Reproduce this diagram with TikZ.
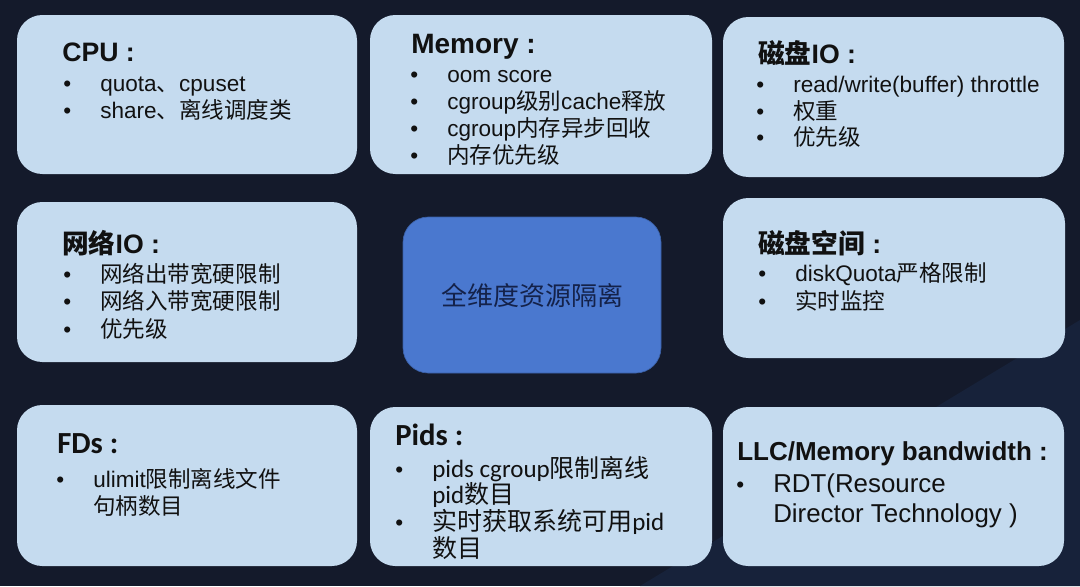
\documentclass[tikz,border=0pt]{standalone}
\usepackage{fontspec}
\setmainfont{Liberation Sans}
\newfontfamily\zh{Noto Sans CJK SC}
\newfontfamily\calfont{Carlito}
\usetikzlibrary{fit}
\definecolor{bg}{HTML}{141A2B}
\definecolor{bgtwo}{HTML}{17223A}
\definecolor{boxfill}{HTML}{C5DBEF}
\definecolor{ctrfill}{HTML}{4A78CF}
\definecolor{ctrtext}{HTML}{14224A}
\definecolor{txt}{HTML}{111111}
\tikzset{
  box/.style={fill=boxfill, rounded corners=19pt, inner sep=0pt},
  ctrbox/.style={fill=ctrfill, draw=ctrfill!80!black, line width=0.5pt, rounded corners=19pt, inner sep=0pt},
  ttlst/.style={anchor=base west, inner sep=0pt, text=txt, font=\fontsize{20pt}{23pt}\selectfont\bfseries},
  calttl/.style={anchor=base west, inner sep=0pt, text=txt, font=\fontsize{23pt}{26pt}\selectfont\bfseries\calfont},
  itmst/.style={anchor=base west, inner sep=0pt, text=txt, font=\fontsize{16.9pt}{20pt}\selectfont},
  bulst/.style={anchor=base west, inner sep=0pt, text=txt, font=\fontsize{16.9pt}{20pt}\selectfont},
}
\newcommand\itm[5][itmst]{\node[bulst] (#2b) at (#3-37,#4) {•};
  \node[#1] (#2) at (#3,#4) {#5};}
\begin{document}
\begin{tikzpicture}[x=0.75pt,y=-0.75pt]
\fill[bg] (0,0) rectangle (1080,586);
\fill[bgtwo] (640,586) -- (1080,320) -- (1080,586) -- cycle;
\useasboundingbox (0,0) rectangle (1080,586);

% boxes
\node[box, fit={(17,15) (357,174)}] (cpu) {};
\node[box, fit={(370,15) (712,174)}] (mem) {};
\node[box, fit={(723,17) (1064,177)}] (dio) {};
\node[box, fit={(17,202) (357,362)}] (net) {};
\node[box, fit={(723,198) (1065,358)}] (dsp) {};
\node[box, fit={(17,405) (357,566)}] (fds) {};
\node[box, fit={(370,407) (712,566)}] (pid) {};
\node[box, fit={(723,407) (1064,566)}] (llc) {};
\node[ctrbox, fit={(403,217) (661,373)}] (ctr) {};
\node[text=ctrtext, font=\fontsize{19.5pt}{22pt}\selectfont\zh, inner sep=0pt] (ctrt) at (532,295) {全维度资源隔离};

% CPU
\node[ttlst] (cput) at (62,61) {CPU :};
\itm{cpu1}{100}{91}{quota{\zh 、}cpuset}
\itm{cpu2}{100}{118.5}{share{\zh 、离线调度类}}

% Memory
\node[ttlst, font=\fontsize{21pt}{24pt}\selectfont\bfseries] (memt) at (411,53) {Memory :};
\itm{mem1}{447}{82}{oom score}
\itm{mem2}{447}{109}{cgroup{\zh 级别}cache{\zh 释放}}
\itm{mem3}{447}{136}{cgroup{\zh 内存异步回收}}
\itm{mem4}{447}{163}{{\zh 内存优先级}}

% Disk IO
\node[ttlst] (diot) at (758,63) {{\zh 磁盘}IO :};
\itm{dio1}{793}{92}{read/write(buffer) throttle}
\itm{dio2}{793}{119}{{\zh 权重}}
\itm{dio3}{793}{145.5}{{\zh 优先级}}

% Net IO
\node[ttlst] (nett) at (62,253) {{\zh 网络}IO :};
\itm{net1}{100}{282}{{\zh 网络出带宽硬限制}}
\itm{net2}{100}{309.5}{{\zh 网络入带宽硬限制}}
\itm{net3}{100}{337}{{\zh 优先级}}

% Disk space
\node[ttlst] (dspt) at (758,253) {{\zh 磁盘空间} :};
\itm{dsp1}{795}{281}{diskQuota{\zh 严格限制}}
\itm{dsp2}{795}{309}{{\zh 实时监控}}

% FDs
\node[calttl] (fdst) at (57,453) {FDs :};
\itm{fds1}{93}{487}{ulimit{\zh 限制离线文件}}
\node[itmst] (fds2) at (93,514) {{\zh 句柄数目}};

% Pids
\tikzset{pidst/.style={itmst, font=\fontsize{18.75pt}{22pt}\selectfont\calfont}}
\node[calttl] (pidt) at (395,445) {Pids :};
\itm[pidst]{pid1}{432}{477}{pids cgroup{\zh 限制离线}}
\node[pidst] (pid2) at (432,503) {pid{\zh 数目}};
\itm[pidst]{pid3}{432}{530}{{\zh 实时获取系统可用}pid}
\node[pidst] (pid4) at (432,557) {{\zh 数目}};

% LLC
\tikzset{llcst/.style={itmst, font=\fontsize{19.4pt}{22pt}\selectfont}}
\node[ttlst, font=\fontsize{19.5pt}{23pt}\selectfont\bfseries] (llct) at (737,460) {LLC/Memory bandwidth :};
\itm[llcst]{llc1}{773}{492}{RDT(Resource}
\node[llcst] (llc2) at (773,522) {Director Technology )};
\end{tikzpicture}
\end{document}
